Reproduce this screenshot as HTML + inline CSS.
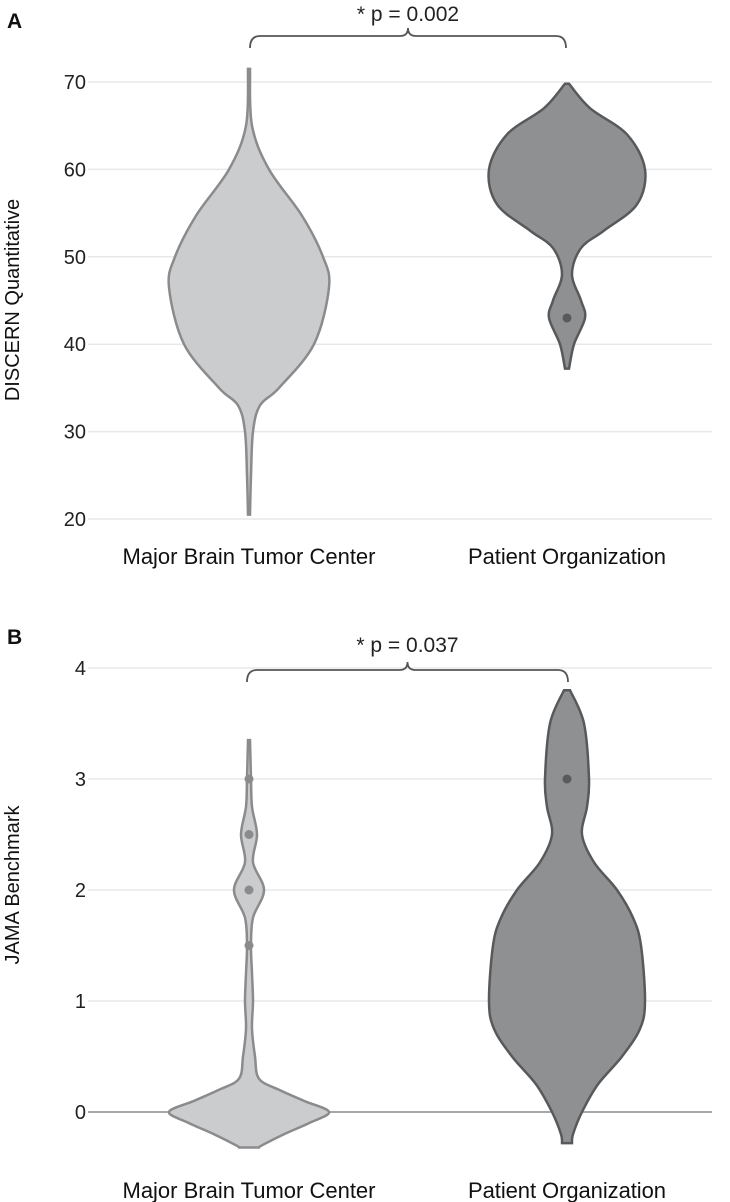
<!DOCTYPE html>
<html><head><meta charset="utf-8"><style>
html,body{margin:0;padding:0;background:#fff}
svg{display:block;font-family:"Liberation Sans",sans-serif}
</style></head><body>
<svg id="c" width="730" height="1202" viewBox="0 0 730 1202"></svg>
<script>
const categories=["Major Brain Tumor Center","Patient Organization"];
const ticksA=[20,30,40,50,60,70];
const ticksB=[0,1,2,3,4];
// density profiles: [value, halfwidth px]
const violinA1=[[71.5,1],[65,3],[60,20],[54.7,53],[50,74],[46.5,80],[40,65],[35,30],[33,11],[30,4],[25,2],[20.5,1]];
const violinA2=[[69.8,2],[67,23],[64,60],[60,78],[56,70],[53,37],[51,14],[48,5],[45,14],[43,18],[40,7],[37.2,2]];
const violinB1=[[3.35,1],[3,2],[2.75,3],[2.5,8],[2.25,4],[2,15],[1.75,4],[1.5,2],[1.25,3],[1,4],[0.75,3],[0.5,6],[0.3,10],[0.2,30],[0.1,55],[0,80],[-0.1,60],[-0.2,35],[-0.3,13],[-0.32,10]];
const violinB2=[[3.8,3],[3.5,17],[3,22],[2.75,20],[2.5,15],[2.25,27],[2,50],[1.75,66],[1.5,74],[1,78],[0.75,73],[0.5,55],[0.25,31],[0,15],[-0.2,6],[-0.28,5]];
const dotsA2=[43];
const dotsB1=[3,2.5,2,1.5];
const dotsB2=[3];
const svg=document.getElementById('c');
const NS='http://www.w3.org/2000/svg';
function mk(t,a,p){const e=document.createElementNS(NS,t);for(const k in a)e.setAttribute(k,a[k]);(p||svg).appendChild(e);return e;}
const yA=v=>519-(v-20)*(519-82)/50;
const yB=v=>1112-v*(1112-668)/4;
const xCat=[249,567];
function smooth(pts){let d='M'+pts[0][0]+','+pts[0][1];for(let i=0;i<pts.length-1;i++){const p0=pts[i-1]||pts[i],p1=pts[i],p2=pts[i+1],p3=pts[i+2]||p2;d+=' C'+(p1[0]+(p2[0]-p0[0])/6)+','+(p1[1]+(p2[1]-p0[1])/6)+' '+(p2[0]-(p3[0]-p1[0])/6)+','+(p2[1]-(p3[1]-p1[1])/6)+' '+p2[0]+','+p2[1];}return d;}
function violin(prof,cx,ys,fill,stroke,name){
 const right=prof.map(p=>[cx+p[1],ys(p[0])]);
 const left=prof.slice().reverse().map(p=>[cx-p[1],ys(p[0])]);
 let d=smooth(right);d+=' L'+left[0][0]+','+left[0][1]+smooth(left).replace(/^M[^ ]+/,'')+' Z';
 const e=mk('path',{d:d,fill:fill,stroke:stroke,'stroke-width':2.5});
 
 
}
function dots(vals,cx,ys,col,name){vals.forEach(v=>{const e=mk('circle',{cx:cx,cy:ys(v),r:4.5,fill:col});
 
 });}
function panel(ticks,ys,zeroLine){
 ticks.forEach(t=>{
  const l=mk('line',{x1:88,x2:712,y1:ys(t),y2:ys(t),stroke:(zeroLine&&t===0)?'#8a8a8a':'#e8e8e8','stroke-width':1.5});
  
  
  const tx=mk('text',{x:86,y:ys(t)+7,'text-anchor':'end','font-size':20,fill:'#222'});tx.textContent=t;
  
  
 });
}
function bracket(x1,x2,y,txt,ty){
 const m=(x1+x2)/2;
 const d=`M${x1},${y+12} Q${x1},${y} ${x1+10},${y} L${m-8},${y} Q${m},${y} ${m},${y-8} Q${m},${y} ${m+8},${y} L${x2-10},${y} Q${x2},${y} ${x2},${y+12}`;
 const b=mk('path',{d:d,fill:'none',stroke:'#555','stroke-width':1.8});
 
 
 const t=mk('text',{x:m,y:ty,'text-anchor':'middle','font-size':21,fill:'#222'});t.textContent=txt;
 
 
}
function text(x,y,s,size,name,extra){const t=mk('text',Object.assign({x:x,y:y,'font-size':size,fill:'#111'},extra||{}));t.textContent=s;
 
 return t;}
// Panel A
panel(ticksA,yA,false);
violin(violinA1,xCat[0],yA,'#cbcccd','#8b8b8d','violin-a-major-center');
violin(violinA2,xCat[1],yA,'#8f9092','#58595b','violin-a-patient-org');
dots(dotsA2,xCat[1],yA,'#5a5a5c','outlier-dot');
bracket(250,566,36,'* p = 0.002',21);
text(7,28,'A',21,'panel-a-label',{'font-weight':'bold'});
text(19,300,'DISCERN Quantitative',20,'y-axis-title-a',{transform:'rotate(-90 19 300)','text-anchor':'middle'});
categories.forEach((c,i)=>text(xCat[i],564,c,22,'x-category-label',{'text-anchor':'middle',textLength:c.length>20?253:198}));
// Panel B
panel(ticksB,yB,true);
violin(violinB1,xCat[0],yB,'#cbcccd','#8b8b8d','violin-b-major-center');
violin(violinB2,xCat[1],yB,'#8f9092','#58595b','violin-b-patient-org');
dots(dotsB1,xCat[0],yB,'#8b8b8d','data-dot');
dots(dotsB2,xCat[1],yB,'#5a5a5c','data-dot');
bracket(247,568,670,'* p = 0.037',652);
text(7,644,'B',21,'panel-b-label',{'font-weight':'bold'});
text(19,885,'JAMA Benchmark',20,'y-axis-title-b',{transform:'rotate(-90 19 885)','text-anchor':'middle'});
categories.forEach((c,i)=>text(xCat[i],1198,c,22,'x-category-label',{'text-anchor':'middle',textLength:c.length>20?253:198}));
</script>
</body></html>
